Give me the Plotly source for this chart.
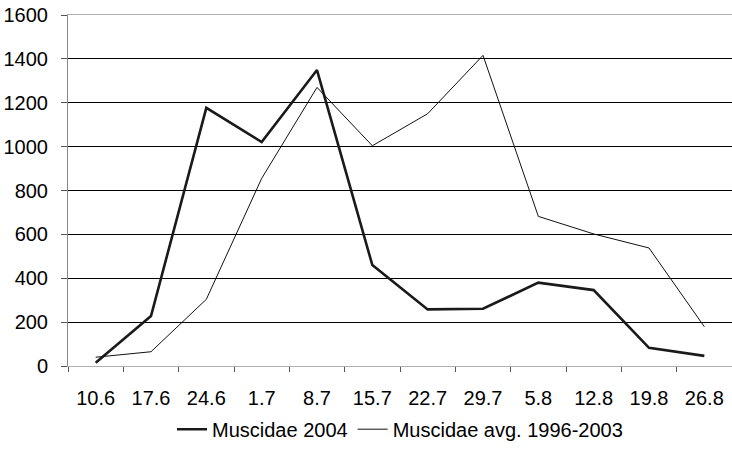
import plotly.graph_objects as go

dates = ["10.6", "17.6", "24.6", "1.7", "8.7", "15.7", "22.7", "29.7", "5.8", "12.8", "19.8", "26.8"]
muscidae_2004 = [15, 228, 1177, 1021, 1349, 460, 258, 261, 380, 346, 83, 46]
muscidae_avg = [40, 65, 304, 855, 1270, 1004, 1150, 1416, 682, 602, 538, 179]
y_ticks = [0, 200, 400, 600, 800, 1000, 1200, 1400, 1600]

fig = go.Figure()
fig.add_trace(go.Scatter(
    x=dates, y=muscidae_2004, mode="lines", name="Muscidae 2004",
    line=dict(color="#1a1a1a", width=2.6),
))
fig.add_trace(go.Scatter(
    x=dates, y=muscidae_avg, mode="lines", name="Muscidae avg. 1996-2003",
    line=dict(color="#111111", width=1),
))

fig.update_layout(
    width=732, height=449,
    margin=dict(l=68, r=0, t=15, b=83),
    paper_bgcolor="white", plot_bgcolor="white",
    font=dict(family="Liberation Sans, Arial, sans-serif", size=20, color="black"),
    showlegend=True,
    legend=dict(orientation="h", x=0.5, xanchor="center", y=-0.18, yanchor="middle",
                font=dict(size=20), itemwidth=30, tracegroupgap=0),
)
fig.update_xaxes(
    type="category", range=[-0.5, len(dates) - 0.5],
    tickson="boundaries", ticks="outside", ticklen=5,
    tickcolor="#555", showgrid=False, showline=True, mirror=True,
    linecolor="#b0b0b0", linewidth=1, ticklabelstandoff=14, automargin=False,
)
fig.update_yaxes(
    range=[0, 1600], tickvals=y_ticks, ticks="outside", ticklen=6,
    tickcolor="#555", showgrid=True, gridcolor="black", gridwidth=1,
    showline=True, linecolor="#888", linewidth=1, zeroline=False,
    ticklabelstandoff=9, automargin=False,
)

# the page body has a default 8px margin; remove it so the chart sits at the corner
fig.write_html("out.html", config={"displayModeBar": False},
               post_script="document.body.style.margin='0';")
